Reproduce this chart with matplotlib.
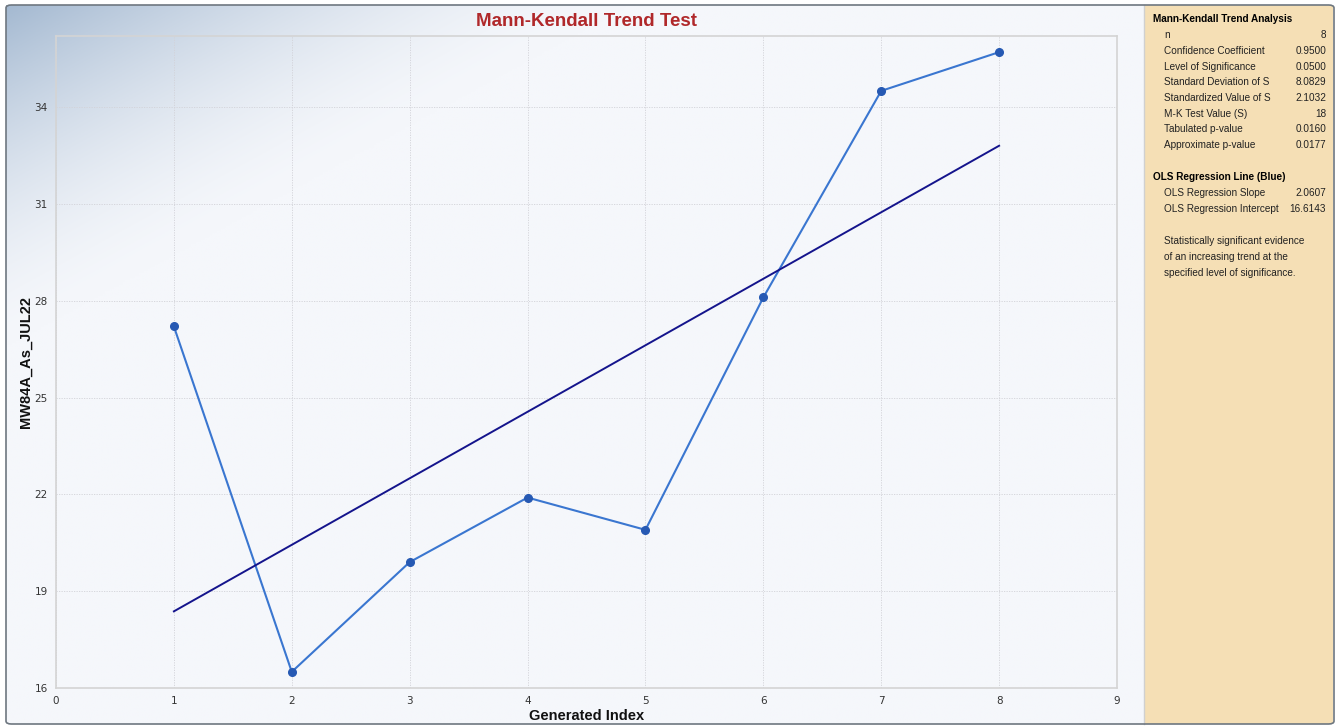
import numpy as np
import matplotlib
matplotlib.use("Agg")
import matplotlib.pyplot as plt
from matplotlib.patches import FancyBboxPatch, Rectangle

# ---- data ----
index = [1, 2, 3, 4, 5, 6, 7, 8]
values = [27.5, 16.8, 20.2, 22.2, 21.2, 28.4, 34.8, 36.0]
ols_slope = 2.0607
ols_intercept = 16.6143
x_ticks = [0, 1, 2, 3, 4, 5, 6, 7, 8, 9]
y_tick_pos = [16.3, 19.3, 22.3, 25.3, 28.3, 31.3, 34.3]
y_tick_labels = ["16", "19", "22", "25", "28", "31", "34"]

stats_labels = ["n", "Confidence Coefficient", "Level of Significance",
                "Standard Deviation of S", "Standardized Value of S",
                "M-K Test Value (S)", "Tabulated p-value", "Approximate p-value"]
stats_values = ["8", "0.9500", "0.0500", "8.0829", "2.1032", "18", "0.0160", "0.0177"]
ols_labels = ["OLS Regression Slope", "OLS Regression Intercept"]
ols_values = ["2.0607", "16.6143"]
conclusion = ["Statistically significant evidence",
              "of an increasing trend at the",
              "specified level of significance."]

W, H = 1338, 727
fig = plt.figure(figsize=(W / 100, H / 100), dpi=100)
fig.patch.set_facecolor("white")

def fx(px):
    return px / W

def fy(py):
    return 1 - py / H

# ---- background gradient for left panel ----
L, R, T, B = 6, 1144, 5, 724
bg = fig.add_axes([fx(L), fy(B), fx(R - L), fy(T) - fy(B)])
bg.set_axis_off()
nx, ny = 500, 320
xx, yy = np.meshgrid(np.linspace(0, R - L, nx), np.linspace(0, B - T, ny))
t = np.clip(xx / 620.0 + yy / 340.0, 0, 1)
t = 1 - (1 - t) ** 1.6
c0 = np.array([0xa4, 0xb9, 0xd1]) / 255.0
c1 = np.array([0xf5, 0xf7, 0xfb]) / 255.0
img = c0[None, None, :] * (1 - t[..., None]) + c1[None, None, :] * t[..., None]
bg.imshow(img, extent=[0, 1, 0, 1], aspect="auto", origin="upper", zorder=0)
bg.set_xlim(0, 1)
bg.set_ylim(0, 1)

# outer frame
frame = FancyBboxPatch((fx(L), fy(B)), fx(1334 - L), fy(T) - fy(B),
                       boxstyle="round,pad=0,rounding_size=0.004",
                       transform=fig.transFigure, facecolor="none",
                       edgecolor="#6e7780", linewidth=1.2, zorder=5)
fig.patches.append(frame)

# right panel
panel = Rectangle((fx(R), fy(B)), fx(1333 - R), fy(T) - fy(B),
                  transform=fig.transFigure, facecolor="#f5dfb5",
                  edgecolor="none", zorder=1)
fig.patches.append(panel)
fig.add_artist(plt.Line2D([fx(R), fx(R)], [fy(B), fy(T)], transform=fig.transFigure,
                          color="#d0d0d0", linewidth=1.0))

# ---- main axes ----
ax = fig.add_axes([fx(56), fy(688), fx(1117 - 56), fy(36) - fy(688)])
ax.set_facecolor("none")
ax.set_xlim(0, 9)
ax.set_ylim(16.3, 36.5)
ax.set_xticks(x_ticks)
ax.set_xticklabels([str(v) for v in x_ticks])
ax.set_yticks(y_tick_pos)
ax.set_yticklabels(y_tick_labels)
ax.tick_params(axis="both", length=0, labelsize=7.5, colors="#333333", pad=6)
ax.grid(True, color="#d2d2d8", linestyle=(0, (1.5, 1.5)), linewidth=0.6)
for sp in ax.spines.values():
    sp.set_color("#d4d4d4")
    sp.set_linewidth(1.2)

ax.plot(index, values, color="#3a76d0", linewidth=1.5, marker="o",
        markersize=5.5, markerfacecolor="#2659b3", markeredgecolor="#2659b3", zorder=3)
xr = np.array([index[0], index[-1]])
ax.plot(xr, ols_intercept + ols_slope * xr, color="#14148c", linewidth=1.4, zorder=4)

ax.set_xlabel("Generated Index", fontsize=10.5, fontweight="bold", color="#111111", labelpad=2,
              family="Liberation Sans")
ax.set_ylabel("MW84A_As_JUL22", fontsize=10.5, fontweight="bold", color="#111111", labelpad=1,
              family="Liberation Sans")

fig.text(fx(587), fy(21), "Mann-Kendall Trend Test", ha="center", va="center",
         fontsize=13.5, fontweight="bold", color="#b0282a", family="Liberation Sans")

# ---- right panel text ----
fs = 7.2
fam = "Liberation Sans"
fig.text(fx(1153), fy(19), "Mann-Kendall Trend Analysis", ha="left", va="center",
         fontsize=fs, fontweight="bold", color="black", family=fam)
y0, dy = 35, 15.75
for i, (lab, val) in enumerate(zip(stats_labels, stats_values)):
    yy_ = y0 + i * dy
    fig.text(fx(1164), fy(yy_), lab, ha="left", va="center", fontsize=fs, color="#222222", family=fam)
    fig.text(fx(1326), fy(yy_), val, ha="right", va="center", fontsize=fs, color="#222222", family=fam)
fig.text(fx(1153), fy(177), "OLS Regression Line (Blue)", ha="left", va="center",
         fontsize=fs, fontweight="bold", color="black", family=fam)
for i, (lab, val) in enumerate(zip(ols_labels, ols_values)):
    yy_ = 193 + i * dy
    fig.text(fx(1164), fy(yy_), lab, ha="left", va="center", fontsize=fs, color="#222222", family=fam)
    fig.text(fx(1326), fy(yy_), val, ha="right", va="center", fontsize=fs, color="#222222", family=fam)
for i, line in enumerate(conclusion):
    fig.text(fx(1164), fy(241 + i * dy), line, ha="left", va="center", fontsize=fs,
             color="#222222", family=fam)

fig.savefig("out.png", dpi=100)
